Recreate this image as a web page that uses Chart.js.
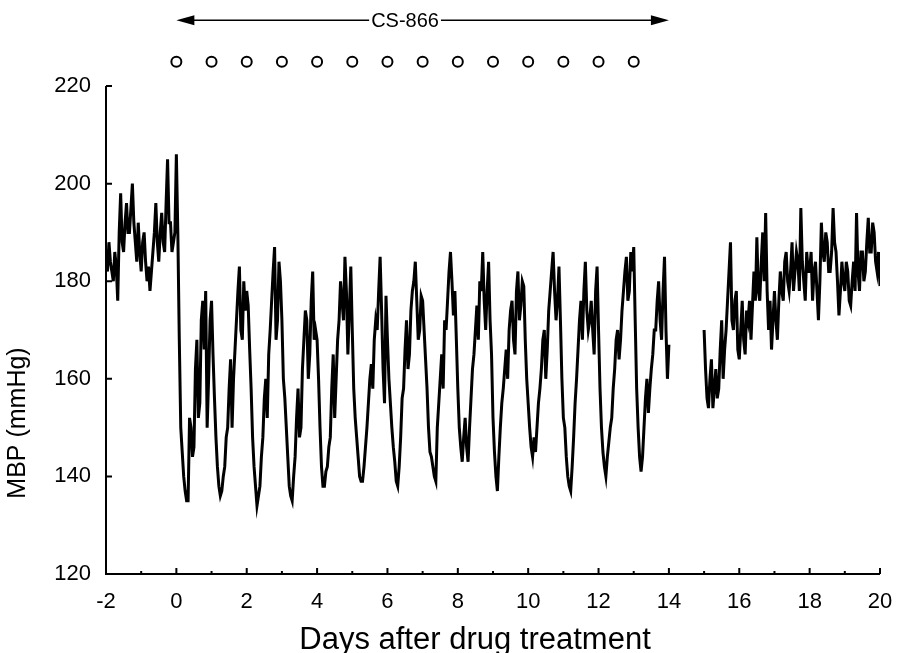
<!DOCTYPE html>
<html>
<head>
<meta charset="utf-8">
<title>MBP after CS-866</title>
<script src="https://cdn.jsdelivr.net/npm/chart.js@4/dist/chart.umd.min.js"></script>
<style>
    body { margin: 0; background: #fff; }
    canvas { display: block; }
</style>
</head>
<body>
<canvas id="mbpChart" width="899" height="653"></canvas>
<script>
// hourly readings (1/24 day)
const sampleStep = 1 / 24;

const baselineStart = -2;
const baselineMbp = [
    185, 182, 188, 184, 182, 180, 186, 183, 176, 190, 198, 188,
    186, 192, 196, 190, 190, 195, 200, 192, 188, 184, 192, 186, // day -2
    182, 188, 190, 184, 180, 183, 178, 182, 186, 190, 196, 188,
    184, 190, 194, 188, 186, 196, 205, 192, 192, 186, 188, 190  // day -1
];

const treatmentStart = 0;
const treatmentMbp = [
    206, 190, 168, 150, 145, 140, 137, 135, 135, 152, 150, 144,
    146, 162, 168, 152, 155, 172, 176, 166, 178, 150, 160, 172, // day 0
    176, 165, 156, 148, 142, 138, 136, 137, 140, 142, 148, 150,
    158, 164, 150, 160, 166, 172, 178, 183, 170, 168, 180, 174, // day 1
    178, 175, 166, 158, 148, 142, 138, 134, 136, 138, 144, 148,
    156, 160, 152, 165, 170, 176, 182, 187, 168, 172, 184, 180, // day 2
    172, 160, 156, 150, 144, 138, 136, 135, 140, 144, 152, 158,
    148, 150, 162, 168, 174, 172, 160, 165, 176, 182, 168, 170, // day 3
    168, 160, 150, 142, 138, 138, 141, 142, 146, 148, 158, 165,
    152, 160, 168, 172, 180, 176, 172, 185, 178, 165, 174, 183, // day 4
    170, 158, 152, 148, 144, 140, 139, 139, 142, 146, 150, 155,
    160, 163, 158, 168, 172, 170, 178, 185, 174, 162, 155, 177, // day 5
    168, 160, 155, 150, 146, 143, 139, 138, 142, 148, 156, 158,
    166, 172, 162, 165, 174, 178, 180, 184, 176, 168, 170, 177, // day 6
    176, 170, 164, 158, 150, 145, 144, 142, 140, 139, 150, 155,
    160, 165, 158, 172, 170, 176, 182, 186, 180, 173, 178, 168, // day 7
    158, 150, 146, 143, 148, 152, 146, 143, 150, 156, 162, 165,
    170, 175, 168, 180, 178, 186, 176, 170, 178, 184, 172, 165, // day 8
    152, 145, 140, 137, 144, 150, 155, 158, 162, 166, 160, 170,
    174, 176, 168, 165, 178, 182, 172, 175, 180, 179, 168, 160, // day 9
    155, 150, 146, 144, 148, 145, 150, 155, 158, 162, 168, 170,
    160, 166, 174, 178, 182, 186, 178, 172, 176, 183, 172, 160, // day 10
    152, 150, 144, 140, 138, 137, 142, 148, 155, 160, 166, 172,
    176, 168, 178, 184, 174, 170, 172, 176, 170, 165, 178, 183, // day 11
    170, 158, 150, 145, 142, 140, 144, 147, 150, 152, 158, 162,
    168, 170, 164, 168, 174, 178, 182, 185, 176, 178, 186, 182, // day 12
    187, 172, 158, 150, 144, 141, 144, 150, 156, 160, 153, 158,
    162, 165, 170, 170, 176, 180, 172, 168, 178, 185, 170, 160, // day 13
    167
];

const recoveryStart = 15;
const recoveryMbp = [
    170, 162, 156, 154, 160, 164, 154, 158, 162, 156, 158, 166,
    172, 160, 166, 170, 176, 182, 188, 172, 170, 176, 178, 166, // day 15
    164, 170, 176, 168, 165, 174, 172, 176, 168, 175, 182, 176,
    189, 178, 176, 184, 190, 180, 194, 178, 170, 176, 166, 172, // day 16
    178, 172, 168, 176, 182, 178, 176, 184, 186, 180, 178, 182,
    188, 178, 182, 186, 184, 178, 195, 184, 180, 176, 186, 182, // day 17
    182, 186, 176, 182, 184, 178, 172, 180, 192, 186, 184, 190,
    188, 182, 182, 186, 195, 188, 186, 180, 173, 178, 184, 180, // day 18
    178, 184, 182, 176, 175, 180, 184, 178, 194, 182, 178, 186,
    186, 180, 182, 188, 193, 186, 186, 192, 190, 184, 182, 186, // day 19
    179
];

// once-daily dosing marks and the treatment period arrow
const dosingDays = [0, 1, 2, 3, 4, 5, 6, 7, 8, 9, 10, 11, 12, 13];
const dosingLevel = 225;
const drugName = 'CS-866';
const drugPeriod = [0, 14];
const drugArrowLevel = 233.5;
const drugLabelDay = 6.5;

const xMin = -2, xMax = 20;
const yMin = 120, yMax = 236;
const yTickValues = [120, 140, 160, 180, 200, 220];

const xTitle = 'Days after drug treatment';
const yTitle = 'MBP (mmHg)';

const FONT = '"Liberation Sans", Arial, Helvetica, sans-serif';

function toPoints(start, values) {
    return values.map((v, i) => ({ x: start + i * sampleStep, y: v }));
}

const tracePoints = [
    ...toPoints(baselineStart, baselineMbp),
    ...toPoints(treatmentStart, treatmentMbp),
    { x: 14.5, y: null },
    ...toPoints(recoveryStart, recoveryMbp)
];

// axes, arrow and titles drawn like the printed figure
const figureMarks = {
    id: 'figureMarks',
    afterDraw(chart) {
        const { ctx, scales: { x, y } } = chart;
        const left = x.getPixelForValue(xMin);
        const right = x.getPixelForValue(xMax);
        const bottom = y.getPixelForValue(yMin);
        const top = y.getPixelForValue(220);

        ctx.save();
        ctx.strokeStyle = '#000';
        ctx.fillStyle = '#000';
        ctx.lineWidth = 2;

        ctx.beginPath();
        ctx.moveTo(left, top);
        ctx.lineTo(left, bottom);
        ctx.lineTo(right, bottom);
        yTickValues.forEach(v => {
            const py = y.getPixelForValue(v);
            ctx.moveTo(left, py);
            ctx.lineTo(left + 6, py);
        });
        for (let d = xMin; d <= xMax; d++) {
            const px = x.getPixelForValue(d);
            ctx.moveTo(px, bottom);
            ctx.lineTo(px, bottom - (d % 2 === 0 ? 6 : 3));
        }
        ctx.stroke();

        // treatment arrow
        const ay = y.getPixelForValue(drugArrowLevel);
        const a0 = x.getPixelForValue(drugPeriod[0]);
        const a1 = x.getPixelForValue(drugPeriod[1]);
        ctx.lineWidth = 1.5;
        ctx.beginPath();
        ctx.moveTo(a0 + 10, ay);
        ctx.lineTo(a1 - 10, ay);
        ctx.stroke();
        ctx.beginPath();
        ctx.moveTo(a0, ay);
        ctx.lineTo(a0 + 18, ay - 5);
        ctx.lineTo(a0 + 18, ay + 5);
        ctx.closePath();
        ctx.moveTo(a1, ay);
        ctx.lineTo(a1 - 18, ay - 5);
        ctx.lineTo(a1 - 18, ay + 5);
        ctx.closePath();
        ctx.fill();

        ctx.font = '20px ' + FONT;
        const lx = x.getPixelForValue(drugLabelDay);
        const lw = ctx.measureText(drugName).width;
        ctx.fillStyle = '#fff';
        ctx.fillRect(lx - lw / 2 - 2, ay - 12, lw + 4, 24);
        ctx.fillStyle = '#000';
        ctx.textAlign = 'center';
        ctx.textBaseline = 'middle';
        ctx.fillText(drugName, lx, ay + 1);

        // axis titles
        ctx.font = '31px ' + FONT;
        ctx.textBaseline = 'alphabetic';
        ctx.fillText(xTitle, 475, 649);

        ctx.font = '25px ' + FONT;
        ctx.translate(25, 423);
        ctx.rotate(-Math.PI / 2);
        ctx.fillText(yTitle, 0, 0);
        ctx.restore();
    }
};

new Chart(document.getElementById('mbpChart').getContext('2d'), {
    type: 'line',
    data: {
        datasets: [{
            label: 'MBP',
            data: tracePoints,
            borderColor: '#000',
            borderWidth: 3,
            pointRadius: 0,
            tension: 0,
            spanGaps: false
        }, {
            label: 'dose',
            data: dosingDays.map(d => ({ x: d, y: dosingLevel })),
            showLine: false,
            pointStyle: 'circle',
            pointRadius: 5,
            pointBorderWidth: 2,
            pointBorderColor: '#000',
            pointBackgroundColor: '#fff'
        }]
    },
    plugins: [figureMarks],
    options: {
        responsive: false,
        animation: false,
        layout: { padding: { top: 8, right: 19, left: 0, bottom: 0 } },
        plugins: {
            legend: { display: false },
            tooltip: { enabled: false }
        },
        scales: {
            x: {
                type: 'linear',
                min: xMin,
                max: xMax,
                grid: { display: false, drawTicks: false },
                border: { display: false },
                ticks: {
                    stepSize: 2,
                    padding: 15,
                    color: '#000',
                    font: { family: FONT, size: 22 }
                },
                afterFit(scale) {
                    scale.height = 79;
                    scale.paddingLeft = 0;
                    scale.paddingRight = 0;
                }
            },
            y: {
                min: yMin,
                max: yMax,
                grid: { display: false, drawTicks: false },
                border: { display: false },
                afterBuildTicks(scale) {
                    scale.ticks = yTickValues.map(v => ({ value: v }));
                },
                ticks: {
                    padding: 15,
                    color: '#000',
                    font: { family: FONT, size: 22 }
                },
                afterFit(scale) {
                    scale.width = 106;
                    scale.paddingTop = 0;
                    scale.paddingBottom = 0;
                }
            }
        }
    }
});
</script>
</body>
</html>
